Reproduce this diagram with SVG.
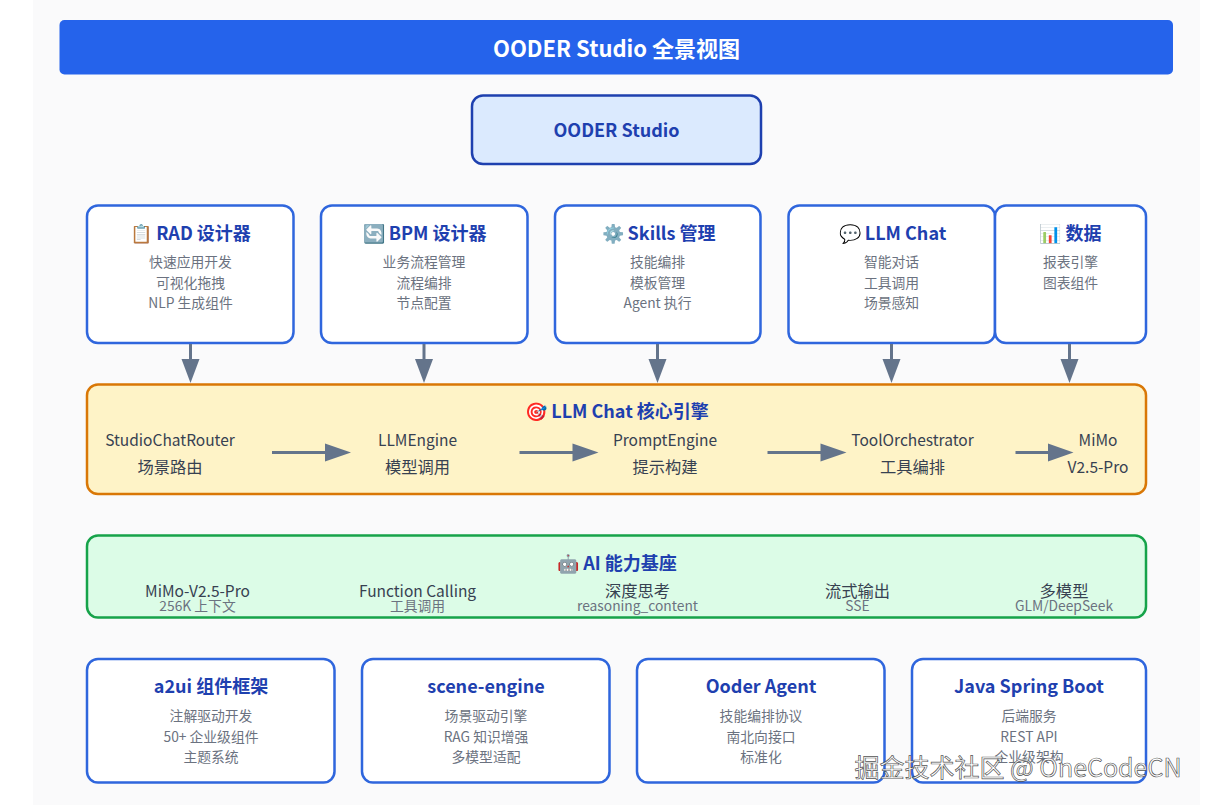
<svg xmlns="http://www.w3.org/2000/svg" width="1205" height="805" viewBox="0 0 1205 805">
<style>
text{font-family:"Noto Sans CJK SC","Noto Sans",sans-serif;text-anchor:middle}
.card{fill:#fff;stroke:#2f66dd;stroke-width:2.5}
.h{font-size:18px;font-weight:700;fill:#1e40af}
.s{font-size:13.800px;fill:#6b7280}
.m{font-size:15.500px;fill:#374151}
.c{font-size:16.300px;fill:#374151}
.a{font-size:13.800px;fill:#6b7280}
.line{stroke:#64748b;stroke-width:3;fill:none}
.head{fill:#64748b}
</style>
<rect width="1205" height="805" fill="#fff"/>
<rect x="33" y="0" width="1167" height="805" fill="#fafafb"/>
<g id="title"><rect x="59.500" y="20" width="1113.500" height="54.500" rx="5" fill="#2563eb"/><text x="616.500" y="57" font-size="22" font-weight="700" fill="#fff">OODER Studio 全景视图</text></g>
<g id="studio"><rect x="472" y="95.500" width="289" height="68.500" rx="11" fill="#dbeafe" stroke="#1e40af" stroke-width="2.500"/><text x="616.500" y="136.500" font-size="18" font-weight="700" fill="#1e40af">OODER Studio</text></g>
<g id="rad"><rect class="card" x="87" y="205.500" width="206.500" height="137.500" rx="11"/><text class="h" x="190.500" y="240">📋 RAD 设计器</text><text class="s" x="190.500" y="267">快速应用开发</text><text class="s" x="190.500" y="288">可视化拖拽</text><text class="s" x="190.500" y="308">NLP 生成组件</text></g>
<g id="bpm"><rect class="card" x="321" y="205.500" width="206.500" height="137.500" rx="11"/><text class="h" x="424.500" y="240">🔄 BPM 设计器</text><text class="s" x="424" y="267">业务流程管理</text><text class="s" x="424" y="288">流程编排</text><text class="s" x="424" y="308">节点配置</text></g>
<g id="skills"><rect class="card" x="555" y="205.500" width="205.500" height="137.500" rx="11"/><text class="h" x="658.500" y="240">⚙️ Skills 管理</text><text class="s" x="657.500" y="267">技能编排</text><text class="s" x="657.500" y="288">模板管理</text><text class="s" x="657.500" y="308">Agent 执行</text></g>
<g id="chat"><rect class="card" x="788.500" y="205.500" width="206.500" height="137.500" rx="11"/><text class="h" x="892.500" y="240">💬 LLM Chat</text><text class="s" x="891.500" y="267">智能对话</text><text class="s" x="891.500" y="288">工具调用</text><text class="s" x="891.500" y="308">场景感知</text></g>
<g id="data"><rect class="card" x="995" y="205.500" width="151" height="137.500" rx="11"/><text class="h" x="1070.500" y="240">📊 数据</text><text class="s" x="1070.500" y="267">报表引擎</text><text class="s" x="1070.500" y="288">图表组件</text></g>
<g id="engine"><rect x="87" y="384.500" width="1059" height="109.500" rx="11" fill="#fef3c7" stroke="#d97706" stroke-width="2.500"/><text class="h" x="617" y="418">🎯 LLM Chat 核心引擎</text>
<text class="m" x="170" y="446">StudioChatRouter</text><text class="c" x="170" y="473">场景路由</text>
<text class="m" x="417.500" y="446">LLMEngine</text><text class="c" x="417.500" y="473">模型调用</text>
<text class="m" x="665" y="446">PromptEngine</text><text class="c" x="665" y="473">提示构建</text>
<text class="m" x="912.500" y="446">ToolOrchestrator</text><text class="c" x="912.500" y="473">工具编排</text>
<text class="m" x="1098" y="446">MiMo</text><text class="m" x="1098" y="473">V2.5-Pro</text></g>
<g id="ai"><rect x="87" y="535.500" width="1059" height="82" rx="11" fill="#dcfce7" stroke="#16a34a" stroke-width="2.500"/><text class="h" x="617" y="570">🤖 AI 能力基座</text>
<text class="m" x="197.500" y="597">MiMo-V2.5-Pro</text><text class="a" x="197.500" y="611">256K 上下文</text>
<text class="m" x="417.500" y="597">Function Calling</text><text class="a" x="417.500" y="611">工具调用</text>
<text class="c" x="637.500" y="597">深度思考</text><text class="a" x="637.500" y="611">reasoning_content</text>
<text class="c" x="857.500" y="597">流式输出</text><text class="a" x="857.500" y="611">SSE</text>
<text class="c" x="1064" y="597">多模型</text><text class="a" x="1064" y="611">GLM/DeepSeek</text></g>
<g id="a2ui"><rect class="card" x="87" y="659" width="247.500" height="123.500" rx="11"/><text class="h" x="211" y="693">a2ui 组件框架</text><text class="s" x="211" y="721">注解驱动开发</text><text class="s" x="211" y="742">50+ 企业级组件</text><text class="s" x="211" y="762">主题系统</text></g>
<g id="scene"><rect class="card" x="362" y="659" width="247.500" height="123.500" rx="11"/><text class="h" x="486" y="693">scene-engine</text><text class="s" x="486" y="721">场景驱动引擎</text><text class="s" x="486" y="742">RAG 知识增强</text><text class="s" x="486" y="762">多模型适配</text></g>
<g id="agent"><rect class="card" x="637" y="659" width="247.500" height="123.500" rx="11"/><text class="h" x="761" y="693">Ooder Agent</text><text class="s" x="761" y="721">技能编排协议</text><text class="s" x="761" y="742">南北向接口</text><text class="s" x="761" y="762">标准化</text></g>
<g id="boot"><rect class="card" x="912" y="659" width="234" height="123.500" rx="11"/><text class="h" x="1029" y="693">Java Spring Boot</text><text class="s" x="1029" y="721">后端服务</text><text class="s" x="1029" y="742">REST API</text><text class="s" x="1029" y="762">企业级架构</text></g>
<g id="connectors">
<path class="line" d="M190.500 344V362M424 344V362M657.500 344V362M891.500 344V362M1069.500 344V362"/>
<path class="head" d="M181.500 359H199.500L190.500 383ZM415 359H433L424 383ZM648.500 359H666.500L657.500 383ZM882.500 359H900.500L891.500 383ZM1060.500 359H1078.500L1069.500 383Z"/>
<path class="line" d="M272 452.500H330M519.500 452.500H578M767.500 452.500H826M1015.500 452.500H1052"/>
<path class="head" d="M325 443.500L351 452.500L325 461.500ZM572.500 443.500L598.500 452.500L572.500 461.500ZM820.500 443.500L846.500 452.500L820.500 461.500ZM1048 443.500L1073.500 452.500L1048 461.500Z"/>
</g>
<text id="watermark" x="1018" y="777" font-size="25" fill="#fff" fill-opacity=".85" stroke="#333" stroke-width=".7" stroke-opacity=".85">掘金技术社区 @ OneCodeCN</text>
</svg>
